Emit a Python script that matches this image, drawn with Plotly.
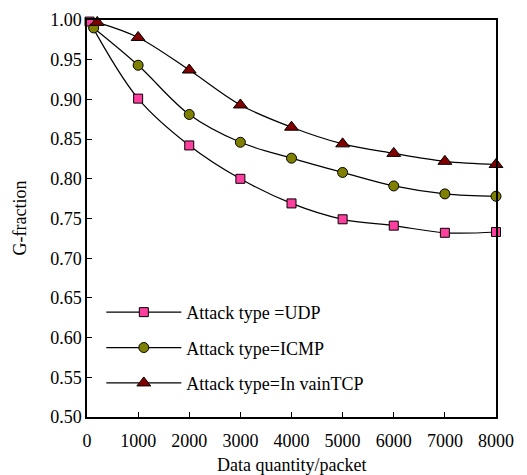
import plotly.graph_objects as go

# Data
x_udp = [50, 1000, 2000, 3000, 4000, 5000, 6000, 7000, 8000]
y_udp = [0.998, 0.901, 0.842, 0.800, 0.769, 0.749, 0.741, 0.732, 0.733]

x_icmp = [130, 1000, 2000, 3000, 4000, 5000, 6000, 7000, 8000]
y_icmp = [0.990, 0.943, 0.881, 0.846, 0.826, 0.808, 0.791, 0.781, 0.778]

x_tcp = [200, 1000, 2000, 3000, 4000, 5000, 6000, 7000, 8000]
y_tcp = [0.997, 0.978, 0.937, 0.893, 0.865, 0.844, 0.832, 0.822, 0.818]

names = ["Attack type =UDP", "Attack type=ICMP", "Attack type=In vainTCP"]
x_ticks = [0, 1000, 2000, 3000, 4000, 5000, 6000, 7000, 8000]
y_ticks = [0.50, 0.55, 0.60, 0.65, 0.70, 0.75, 0.80, 0.85, 0.90, 0.95, 1.00]

FONT = "Liberation Serif, Times New Roman, Times, serif"
FS = 18

fig = go.Figure()
series = [
    (x_udp, y_udp, names[0], "square", "#FF3FA0", 9),
    (x_icmp, y_icmp, names[1], "circle", "#808000", 10),
    (x_tcp, y_tcp, names[2], "triangle-up", "#800000", 12),
]
for i, (xs, ys, nm, sym, col, sz) in enumerate(series):
    fig.add_trace(go.Scatter(
        x=xs, y=ys, name=nm, mode="lines+markers", legendgroup=f"g{i}",
        line=dict(color="black", width=1.2, shape="spline", smoothing=1.0),
        marker=dict(symbol=sym, color=col, size=sz,
                    line=dict(color="black", width=1)),
        cliponaxis=False,
    ))

fig.update_layout(
    width=527, height=475,
    margin=dict(l=79, r=39, t=12, b=66, autoexpand=False),
    paper_bgcolor="white", plot_bgcolor="white",
    font=dict(family=FONT, size=FS, color="black"),
    showlegend=True,
    legend=dict(
        x=0.035, y=0.31, xanchor="left", yanchor="top",
        bgcolor="rgba(0,0,0,0)", borderwidth=0,
        font=dict(family=FONT, size=FS, color="black"),
        itemwidth=75, tracegroupgap=9,
    ),
    annotations=[
        dict(text="G-fraction", x=0, y=0.5, xref="paper", yref="paper",
             xanchor="center", yanchor="middle", textangle=-90,
             xshift=-68, showarrow=False, font=dict(family=FONT, size=FS)),
        dict(text="Data quantity/packet", x=0.5, y=0, xref="paper", yref="paper",
             xanchor="center", yanchor="middle", yshift=-48,
             showarrow=False, font=dict(family=FONT, size=FS)),
    ],
)
fig.update_xaxes(
    range=[0, 8000], tickvals=x_ticks, ticktext=[str(v) for v in x_ticks],
    ticks="inside", ticklen=5, tickwidth=1.2, tickcolor="black",
    showline=True, linecolor="black", linewidth=1.5, mirror=True,
    showgrid=False, zeroline=False, automargin=False, ticklabelstandoff=7,
    tickfont=dict(family=FONT, size=FS),
)
fig.update_yaxes(
    range=[0.50, 1.00], tickvals=y_ticks, ticktext=[f"{v:.2f}" for v in y_ticks],
    ticks="inside", ticklen=5, tickwidth=1.2, tickcolor="black",
    showline=True, linecolor="black", linewidth=1.5, mirror=True,
    showgrid=False, zeroline=False, automargin=False,
    tickfont=dict(family=FONT, size=FS),
)

fig.write_html("out.html")
